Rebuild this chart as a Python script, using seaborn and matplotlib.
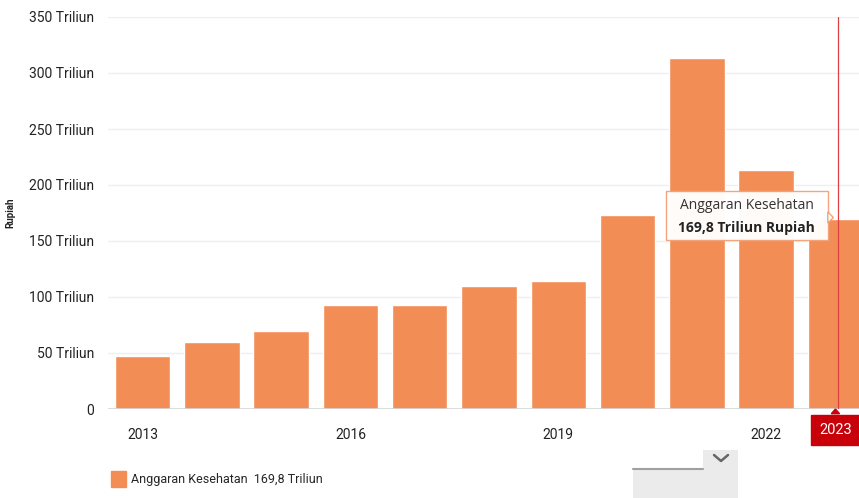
import pandas as pd
import matplotlib
matplotlib.use("Agg")
import matplotlib.pyplot as plt
import seaborn as sns
from matplotlib.patches import Patch, Rectangle, Polygon
from matplotlib.lines import Line2D
import matplotlib.transforms as mtransforms

# Anggaran kesehatan (triliun rupiah)
years = ["2013", "2014", "2015", "2016", "2017", "2018", "2019", "2020", "2021", "2022", "2023"]
budget = [47.3, 59.8, 69.6, 92.9, 92.9, 109.8, 114.3, 173.2, 313.4, 213.4, 169.8]
shown_ticks = ["2013", "2016", "2019", "2022"]
y_ticks = [0, 50, 100, 150, 200, 250, 300, 350]
y_tick_labels = ["0"] + [f"{v} Triliun" for v in y_ticks[1:]]
highlight_year = "2023"
tooltip_title = "Anggaran Kesehatan"
tooltip_value = "169,8 Triliun Rupiah"
legend_label = "Anggaran Kesehatan  169,8 Triliun"

df = pd.DataFrame({"year": years, "budget": budget})

bar_color = "#F38D56"
red = "#C8000A"

sns.set_style("white")
plt.rcParams["font.family"] = ["Roboto", "DejaVu Sans"]

W, H = 859, 498
fig = plt.figure(figsize=(W / 100, H / 100), dpi=100)
ax = fig.add_axes([108 / W, 89 / H, (W - 108) / W, 392 / H])

sns.barplot(data=df, x="year", y="budget", color=bar_color, saturation=1,
            width=0.8, ax=ax, zorder=3)

ax.set_ylim(0, 350)
ax.set_xlim(-0.5, 10.34)
ax.set_yticks(y_ticks)
ax.set_yticklabels(y_tick_labels)
for v in y_ticks[1:]:
    ax.axhline(v, color="#EFEFEF", lw=1, zorder=1)
ax.axhline(0, color="#D5D5D5", lw=1.2, zorder=4)

ax.set_xticks(range(len(years)))
ax.set_xticklabels([y if y in shown_ticks else "" for y in years])
ax.tick_params(axis="x", length=0, pad=14, labelsize=10, colors="#222222")
ax.tick_params(axis="y", length=0, pad=10, labelsize=10, colors="#222222")
for s in ax.spines.values():
    s.set_visible(False)

ax.set_xlabel("")
ax.set_ylabel("Rupiah", fontsize=7, fontweight="bold", color="#222222")
ax.yaxis.set_label_coords(-93 / 751, 0.5)

# crosshair on the last year
hi = years.index(highlight_year)
ax.axvline(hi + 0.04, color="#E04040", lw=0.9, zorder=5)
trans = mtransforms.blended_transform_factory(ax.transData, ax.transAxes)
ax.text(hi, -0.054, highlight_year, transform=trans, ha="center", va="center",
        color="white", fontsize=10.5, clip_on=False,
        bbox=dict(boxstyle="square,pad=0.55", fc=red, ec=red))
ax.add_patch(Polygon([[hi - 0.06, -0.012], [hi + 0.06, -0.012], [hi, 0.0]],
                     closed=True, transform=trans, fc=red, ec=red,
                     clip_on=False, zorder=6))

# tooltip
ax.add_patch(Rectangle((7.55, 150.9), 2.34, 43.7, fc="white", ec="#F3A27A",
                       lw=1, zorder=7, alpha=0.97))
ax.add_patch(Polygon([[9.89, 166], [9.89, 176], [9.97, 171]], closed=True,
                     fc="white", ec="#F3A27A", lw=1, zorder=7))
ax.text(8.72, 181.5, tooltip_title, ha="center", va="center", fontsize=10,
        color="#333333", zorder=8, family=["Open Sans", "DejaVu Sans"])
ax.text(8.72, 161.5, tooltip_value, ha="center", va="center", fontsize=10,
        fontweight="bold", color="#222222", zorder=8,
        family=["Open Sans", "DejaVu Sans"])

# legend
fig.legend(handles=[Patch(fc=bar_color, ec=bar_color, label=legend_label)],
           loc="center left", bbox_to_anchor=(100 / W, 1 - 479 / H),
           frameon=False, fontsize=9, handlelength=1.2, handleheight=1.6,
           handletextpad=0.4)

# scroll widget at the bottom
fig.patches.append(Rectangle((633 / W, 0), 105 / W, 28 / H, fc="#EBEBEB",
                             ec="none", transform=fig.transFigure))
fig.patches.append(Rectangle((703 / W, 28 / H), 35 / W, 20 / H, fc="#EBEBEB",
                             ec="none", transform=fig.transFigure))
fig.lines.append(Line2D([633 / W, 703 / W], [29 / H, 29 / H], color="#A0A0A0",
                        lw=1.5, transform=fig.transFigure))
fig.lines.append(Line2D([714 / W, 721 / W, 728 / W], [43 / H, 37 / H, 43 / H],
                        color="#666666", lw=1.8, transform=fig.transFigure))

fig.savefig("out.png", dpi=100)
